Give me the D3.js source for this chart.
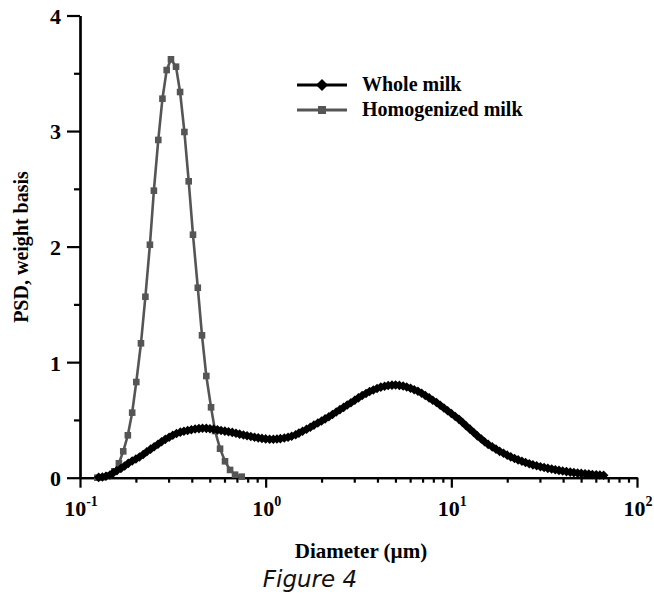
<!DOCTYPE html>
<html>
<head>
<meta charset="utf-8">
<script src="https://cdn.jsdelivr.net/npm/d3@7"></script>
<style>
  body { margin: 0; background: #fff; }
  svg { display: block; }
</style>
</head>
<body>
<div id="chart"></div>
<script>
'use strict';

// Whole milk, diameter in um and PSD (weight basis)
const diameter = [
  0.126, 0.132, 0.138, 0.145, 0.151, 0.158, 0.166, 0.174, 0.182, 0.191,
  0.200, 0.209, 0.219, 0.229, 0.240, 0.251, 0.263, 0.275, 0.288, 0.302,
  0.316, 0.331, 0.347, 0.363, 0.380, 0.398, 0.417, 0.437, 0.457, 0.479,
  0.501, 0.525, 0.550, 0.575, 0.603, 0.631, 0.661, 0.692, 0.724, 0.759,
  0.794, 0.832, 0.871, 0.912, 0.955,
  1.00, 1.05, 1.10, 1.15, 1.20, 1.26, 1.32, 1.38, 1.45, 1.51,
  1.58, 1.66, 1.74, 1.82, 1.91, 2.00, 2.09, 2.19, 2.29, 2.40,
  2.51, 2.63, 2.75, 2.88, 3.02, 3.16, 3.31, 3.47, 3.63, 3.80,
  3.98, 4.17, 4.37, 4.57, 4.79, 5.01, 5.25, 5.50, 5.75, 6.03,
  6.31, 6.61, 6.92, 7.24, 7.59, 7.94, 8.32, 8.71, 9.12, 9.55,
  10.0, 10.5, 11.0, 11.5, 12.0, 12.6, 13.2, 13.8, 14.5, 15.1,
  15.8, 16.6, 17.4, 18.2, 19.1, 20.0, 20.9, 21.9, 22.9, 24.0,
  25.1, 26.3, 27.5, 28.8, 30.2, 31.6, 33.1, 34.7, 36.3, 38.0,
  39.8, 41.7, 43.7, 45.7, 47.9, 50.1, 52.5, 55.0, 57.5, 60.3,
  63.1, 66.1
];
const wholeMilk = [
  0.003, 0.006, 0.013, 0.024, 0.042, 0.060, 0.080, 0.101, 0.124, 0.145,
  0.162, 0.179, 0.201, 0.225, 0.247, 0.268, 0.290, 0.311, 0.332, 0.350,
  0.368, 0.382, 0.394, 0.402, 0.409, 0.415, 0.421, 0.425, 0.428, 0.427,
  0.424, 0.420, 0.414, 0.409, 0.403, 0.398, 0.392, 0.385, 0.377, 0.370,
  0.363, 0.356, 0.350, 0.345, 0.340,
  0.336, 0.333, 0.333, 0.335, 0.338, 0.343, 0.350, 0.359, 0.372, 0.386,
  0.402, 0.419, 0.436, 0.455, 0.473, 0.491, 0.509, 0.528, 0.547, 0.568,
  0.589, 0.609, 0.629, 0.649, 0.670, 0.691, 0.711, 0.729, 0.746, 0.759,
  0.772, 0.784, 0.792, 0.798, 0.801, 0.802, 0.799, 0.793, 0.785, 0.774,
  0.761, 0.748, 0.731, 0.711, 0.691, 0.670, 0.651, 0.627, 0.603, 0.580,
  0.555, 0.530, 0.505, 0.478, 0.450, 0.420, 0.391, 0.362, 0.335, 0.311,
  0.288, 0.267, 0.247, 0.228, 0.211, 0.195, 0.180, 0.166, 0.154, 0.142,
  0.131, 0.121, 0.111, 0.103, 0.095, 0.088, 0.081, 0.075, 0.069, 0.063,
  0.058, 0.053, 0.048, 0.044, 0.040, 0.037, 0.034, 0.031, 0.028, 0.026,
  0.023, 0.021
];

// Homogenized milk
const homoDiameter = [
  0.124, 0.131, 0.142, 0.153, 0.162, 0.171, 0.181, 0.191, 0.201, 0.213,
  0.225, 0.238, 0.250, 0.264, 0.278, 0.293, 0.309, 0.329, 0.346, 0.365,
  0.385, 0.406, 0.431, 0.454, 0.479, 0.508, 0.534, 0.568, 0.604, 0.643,
  0.684, 0.743
];
const homogenized = [
  0.000, 0.004, 0.020, 0.055, 0.125, 0.228, 0.367, 0.563, 0.828, 1.163,
  1.566, 2.016, 2.484, 2.923, 3.280, 3.528, 3.621, 3.557, 3.338, 2.992,
  2.565, 2.103, 1.644, 1.232, 0.880, 0.609, 0.404, 0.251, 0.142, 0.067,
  0.026, 0.009
];

const xMajor = [0.1, 1, 10, 100];
const xExponents = ['-1', '0', '1', '2'];
const yMajor = [0, 1, 2, 3, 4];
const yMinor = [0.5, 1.5, 2.5, 3.5];
const legendLabels = ['Whole milk', 'Homogenized milk'];

const WIDTH = 654;
const HEIGHT = 594;
const SERIF = '"Times New Roman", "Liberation Serif", serif';
const GRAY = '#555';

let x = d3.scaleLog().domain([0.1, 100]).range([80, 637]);
let y = d3.scaleLinear().domain([0, 4]).range([477.7, 15.5]);

let svg = d3.select('#chart').append('svg')
  .attr('width', WIDTH)
  .attr('height', HEIGHT);

// minor log ticks on x
let xMinor = [];
x.ticks().forEach(function(t) {
  if (xMajor.indexOf(t) < 0) xMinor.push(t);
});

let xAxisG = svg.append('g').attr('transform', 'translate(0,' + y(0) + ')');
xAxisG.call(d3.axisBottom(x).tickValues(xMinor).tickSize(5).tickSizeOuter(0).tickFormat(''));
xAxisG.append('g')
  .call(d3.axisBottom(x).tickValues(xMajor).tickSize(10).tickSizeOuter(0).tickFormat(''));

let yAxisG = svg.append('g').attr('transform', 'translate(' + x(0.1) + ',0)');
yAxisG.call(d3.axisLeft(y).tickValues(yMinor).tickSize(6).tickSizeOuter(0).tickFormat(''));
yAxisG.append('g')
  .call(d3.axisLeft(y).tickValues(yMajor).tickSize(13).tickSizeOuter(0)
    .tickFormat(d3.format('d')).tickPadding(6));

svg.selectAll('.domain, .tick line')
  .attr('stroke', '#000')
  .attr('stroke-width', 2.2);

yAxisG.selectAll('text')
  .attr('font-family', SERIF)
  .attr('font-weight', 'bold')
  .attr('font-size', 22)
  .attr('fill', '#000')
  .attr('dy', '0.36em');

// x tick labels as 10^n
let xLabels = svg.append('g')
  .selectAll('text')
  .data(xMajor)
  .enter().append('text')
    .attr('x', function(d) { return x(d) + 1; })
    .attr('y', 516)
    .attr('text-anchor', 'middle')
    .attr('font-family', SERIF)
    .attr('font-weight', 'bold')
    .attr('font-size', 22)
    .attr('fill', '#000');
xLabels.append('tspan').text('10');
xLabels.append('tspan')
  .attr('dy', -10)
  .attr('font-size', 14)
  .text(function(d, i) { return xExponents[i]; });

// series
let line = d3.line()
  .x(function(d) { return x(d[0]); })
  .y(function(d) { return y(d[1]); });

let wholeData = diameter.map(function(d, i) { return [d, wholeMilk[i]]; });
let homoData = homoDiameter.map(function(d, i) { return [d, homogenized[i]]; });

function diamond(r) {
  return 'M0,' + (-r) + 'L' + r + ',0L0,' + r + 'L' + (-r) + ',0Z';
}

svg.append('path')
  .datum(homoData)
  .attr('fill', 'none')
  .attr('stroke', GRAY)
  .attr('stroke-width', 2.6)
  .attr('d', line);

svg.append('g')
  .selectAll('rect')
  .data(homoData)
  .enter().append('rect')
    .attr('x', function(d) { return x(d[0]) - 3.3; })
    .attr('y', function(d) { return y(d[1]) - 3.3; })
    .attr('width', 6.6)
    .attr('height', 6.6)
    .attr('fill', GRAY);

svg.append('path')
  .datum(wholeData)
  .attr('fill', 'none')
  .attr('stroke', '#000')
  .attr('stroke-width', 4)
  .attr('d', line);

svg.append('g')
  .selectAll('path')
  .data(wholeData)
  .enter().append('path')
    .attr('transform', function(d) { return 'translate(' + x(d[0]) + ',' + y(d[1]) + ')'; })
    .attr('d', diamond(4.8))
    .attr('fill', '#000');

// legend
let legend = svg.append('g').attr('transform', 'translate(297,85)');
legend.append('line')
  .attr('x1', 0).attr('x2', 50).attr('y1', 0).attr('y2', 0)
  .attr('stroke', '#000').attr('stroke-width', 2.8);
legend.append('path')
  .attr('transform', 'translate(25,0)')
  .attr('d', diamond(6))
  .attr('fill', '#000');
legend.append('line')
  .attr('x1', 0).attr('x2', 50).attr('y1', 25).attr('y2', 25)
  .attr('stroke', GRAY).attr('stroke-width', 2.8);
legend.append('rect')
  .attr('x', 21).attr('y', 21).attr('width', 8).attr('height', 8)
  .attr('fill', GRAY);
legend.selectAll('text')
  .data(legendLabels)
  .enter().append('text')
    .attr('x', 65)
    .attr('y', function(d, i) { return i * 25 + 6; })
    .attr('font-family', SERIF)
    .attr('font-weight', 'bold')
    .attr('font-size', 20)
    .attr('fill', '#000')
    .text(function(d) { return d; });

// axis titles
svg.append('text')
  .attr('transform', 'translate(28,247) rotate(-90)')
  .attr('text-anchor', 'middle')
  .attr('font-family', SERIF)
  .attr('font-weight', 'bold')
  .attr('font-size', 20)
  .text('PSD, weight basis');

svg.append('text')
  .attr('x', 361)
  .attr('y', 558)
  .attr('text-anchor', 'middle')
  .attr('font-family', SERIF)
  .attr('font-weight', 'bold')
  .attr('font-size', 21)
  .text('Diameter (\u00b5m)');

svg.append('text')
  .attr('x', 310)
  .attr('y', 587)
  .attr('text-anchor', 'middle')
  .attr('font-family', '"DejaVu Sans", Verdana, sans-serif')
  .attr('font-style', 'italic')
  .attr('font-size', 23)
  .attr('fill', '#111')
  .text('Figure 4');
</script>
</body>
</html>
